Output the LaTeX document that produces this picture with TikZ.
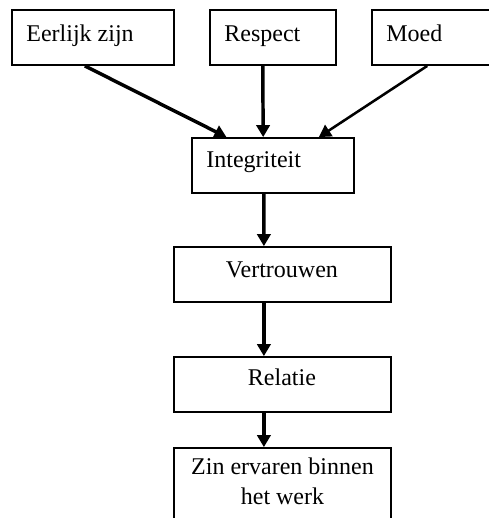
\documentclass[tikz,border=0pt]{standalone}
\usepackage{fontspec}
\setmainfont{Liberation Serif}
\usetikzlibrary{arrows.meta,calc}
\begin{document}
\begin{tikzpicture}[x=0.75pt,y=-0.75pt,
  box/.style={draw=black,line width=1.35pt,rectangle,inner sep=0pt,minimum height=41.25pt},
  lbl/.style={inner sep=0pt,font=\fontsize{18pt}{22.5pt}\selectfont,text=black},
  arr/.style={draw=black,line width=2.6pt,-{Triangle[length=9pt,width=10pt]}},
  thinarr/.style={draw=black,line width=1.9pt,-{Triangle[length=9pt,width=10pt]}}]
\useasboundingbox (0,0) rectangle (489,518);
% boxes
\node[box,minimum width=121.5pt] (e) at (93,37.5) {};
\node[box,minimum width=94.5pt] (r) at (273,37.5) {};
\node[box,minimum width=92.25pt] (m) at (433.5,37.5) {};
\node[box,minimum width=121.5pt] (i) at (273,165.5) {};
\node[box,minimum width=162.75pt] (v) at (282.5,274.5) {};
\node[box,minimum width=162.75pt] (rel) at (282.5,384.5) {};
\node[box,minimum width=162.75pt,minimum height=61.5pt] (z) at (282.5,489) {};
% labels
\node[lbl,anchor=base west] (te) at ([xshift=11.25pt,yshift=-24pt]e.north west) {Eerlijk zijn};
\node[lbl,anchor=base west] (tr) at ([xshift=11.25pt,yshift=-24pt]r.north west) {Respect};
\node[lbl,anchor=base west] (tm) at ([xshift=11.25pt,yshift=-24pt]m.north west) {Moed};
\node[lbl,anchor=base west] (ti) at ([xshift=11.25pt,yshift=-23pt]i.north west) {Integriteit};
\node[lbl,anchor=base] (tv) at ([xshift=-0.4pt,yshift=-23.5pt]v.north) {Vertrouwen};
\node[lbl,anchor=base] (trel) at ([xshift=-0.4pt,yshift=-22pt]rel.north) {Relatie};
\node[lbl,anchor=north,align=center] (tz) at ([yshift=-8pt]z.north) {Zin ervaren binnen\\het werk};
% arrows
\draw[arr] ($(e.south west)!0.45!(e.south east)$) -- ($(i.north west)!0.216!(i.north east)$);
\draw[arr] ($(r.south west)!0.42!(r.south east)$) -- ($(i.north west)!0.44!(i.north east)$);
\draw[thinarr] ($(m.south west)!0.45!(m.south east)$) -- ($(i.north west)!0.78!(i.north east)$);
\draw[arr] ($(i.south west)!0.444!(i.south east)$) -- ($(v.north west)!0.415!(v.north east)$);
\draw[arr] ($(v.south west)!0.415!(v.south east)$) -- ($(rel.north west)!0.415!(rel.north east)$);
\draw[arr] ($(rel.south west)!0.415!(rel.south east)$) -- ($(z.north west)!0.415!(z.north east)$);
\end{tikzpicture}
\end{document}
